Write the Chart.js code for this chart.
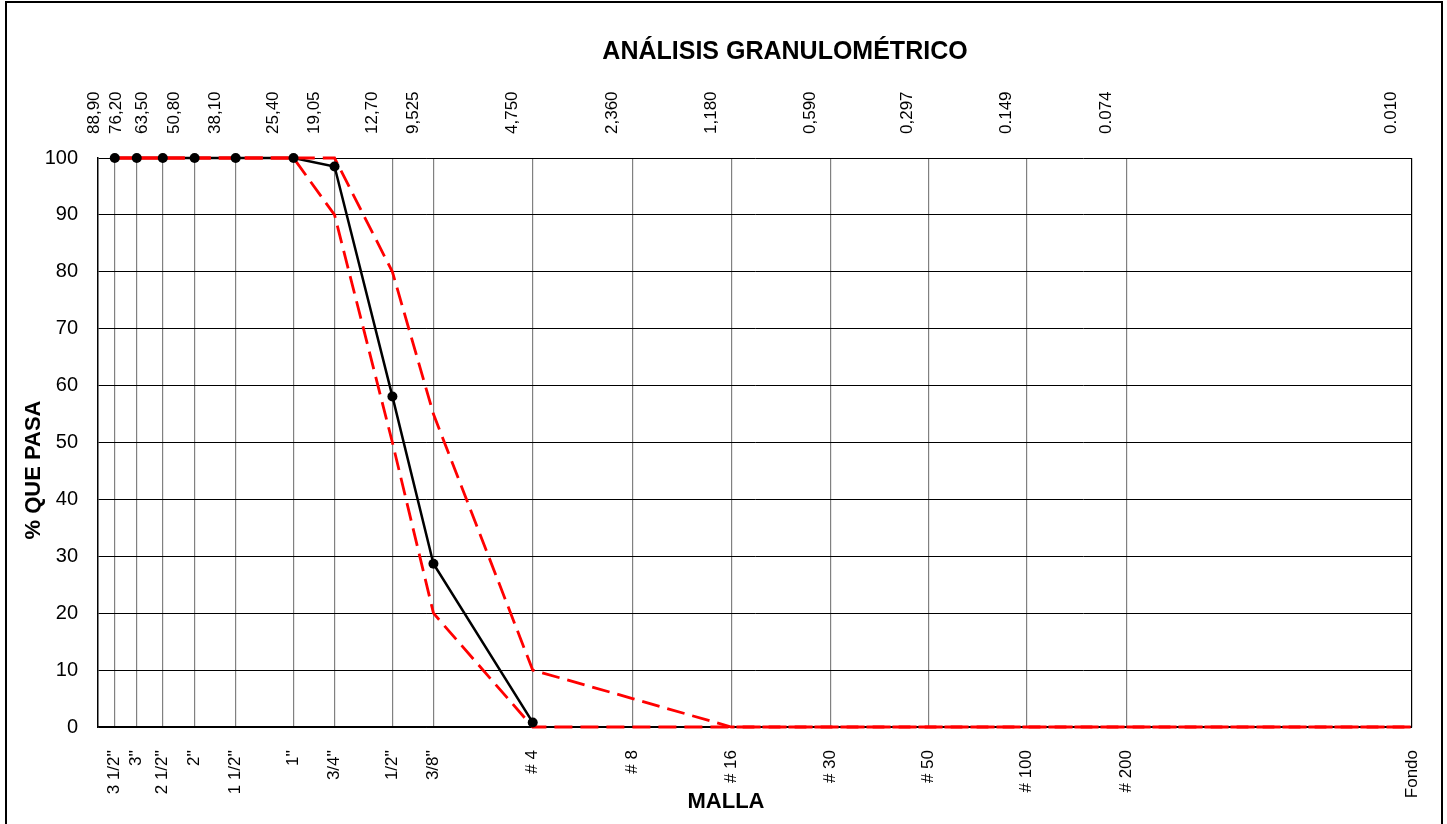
<!DOCTYPE html>
<html>
<head>
<meta charset="utf-8">
<title>Análisis granulométrico</title>
<script src="https://cdn.jsdelivr.net/npm/chart.js@4.4.1/dist/chart.umd.min.js"></script>
<style>
  html, body { margin: 0; padding: 0; background: #fff; }
  #wrap { position: relative; width: 1447px; height: 824px; }
</style>
</head>
<body>
<div id="wrap"><canvas id="myChart"></canvas></div>
<script>
const ctx = document.getElementById("myChart")

// abertura de tamices (mm)
const sieveSizes = [88.9, 76.2, 63.5, 50.8, 38.1, 25.4, 19.05, 12.7, 9.525, 4.75, 2.36, 1.18, 0.59, 0.297, 0.149, 0.074, 0.010];
const sizeLabels = ["88,90", "76,20", "63,50", "50,80", "38,10", "25,40", "19,05", "12,70", "9,525", "4,750", "2,360", "1,180", "0,590", "0,297", "0.149", "0.074", "0.010"];
const meshLabels = ["3 1/2''", "3''", "2 1/2''", "2''", "1 1/2''", "1''", "3/4''", "1/2''", "3/8''", "# 4", "# 8", "# 16", "# 30", "# 50", "# 100", "# 200", "Fondo"];

// % que pasa (muestra) - solo hasta # 4
const pasa = [100, 100, 100, 100, 100, 100, 98.5, 58.1, 28.7, 0.8];
// limites del huso
const limiteSup = [100, 100, 100, 100, 100, 100, 100, 80, 55, 10, 5, 0, 0, 0, 0, 0, 0];
const limiteInf = [100, 100, 100, 100, 100, 100, 90, 50, 20, 0, 0, 0, 0, 0, 0, 0, 0];

const yTicks = [0, 10, 20, 30, 40, 50, 60, 70, 80, 90, 100];

const FONT = "Arial, 'Liberation Sans', sans-serif";
const toPoints = (vals) => vals.map((v, i) => ({ x: sieveSizes[i], y: v }));

// marco, titulo y titulos de ejes
const frame = {
  id: "frame",
  beforeDraw(chart) {
    const c = chart.ctx;
    c.save();
    c.fillStyle = "#fff";
    c.fillRect(0, 0, chart.width, chart.height);
    c.strokeStyle = "#000";
    c.lineWidth = 2;
    c.strokeRect(6, 2, 1436, 900);
    c.restore();
  },
  afterDraw(chart) {
    const c = chart.ctx;
    c.save();
    c.fillStyle = "#000";
    c.textAlign = "center";
    c.textBaseline = "middle";
    c.font = "bold 25px " + FONT;
    c.fillText("ANÁLISIS GRANULOMÉTRICO", 785, 52);
    c.font = "bold 22px " + FONT;
    c.fillText("MALLA", 726, 802);
    c.translate(34, 470);
    c.rotate(-Math.PI / 2);
    c.fillText("% QUE PASA", 0, 0);
    c.restore();
  }
};

const xBase = {
  type: "logarithmic",
  reverse: true,
  min: 0.01,
  max: 100,
  afterBuildTicks: (scale) => { scale.ticks = sieveSizes.map(v => ({ value: v })); },
};

const redDash = {
  borderColor: "#ff0000",
  borderWidth: 2.8,
  borderDash: [18, 8],
  pointRadius: 0,
  tension: 0,
  clip: false
};

new Chart(ctx, {
  type: "line",
  data: {
    datasets: [{
      // marcadores encima de todo
      label: "Muestra (puntos)",
      data: toPoints(pasa),
      showLine: false,
      pointRadius: 5,
      pointBackgroundColor: "#000",
      pointBorderWidth: 0,
      clip: false,
      order: 0
    },
    {
      label: "Límite superior",
      data: toPoints(limiteSup),
      ...redDash,
      order: 1
    },
    {
      label: "Límite inferior",
      data: toPoints(limiteInf),
      ...redDash,
      order: 2
    },
    {
      label: "Muestra",
      data: toPoints(pasa),
      borderColor: "#000",
      borderWidth: 2.5,
      pointRadius: 0,
      tension: 0,
      clip: false,
      order: 3
    }]
  },
  options: {
    responsive: true,
    maintainAspectRatio: false,
    animation: false,
    layout: { padding: { left: 0, right: 35, top: 0, bottom: 0 } },
    plugins: {
      legend: { display: false },
      tooltip: { enabled: false },
      title: { display: false }
    },
    scales: {
      x: {
        ...xBase,
        position: "bottom",
        afterFit: (scale) => { scale.height = 97; scale.paddingLeft = 0; scale.paddingRight = 0; },
        ticks: {
          autoSkip: false,
          minRotation: 90,
          maxRotation: 90,
          padding: 23,
          color: "#000",
          font: { family: FONT, size: 17 },
          callback: (v, i) => meshLabels[i]
        },
        grid: {
          drawTicks: false,
          lineWidth: 1.2,
          color: (c) => (c.tick && c.tick.value === 0.01) ? "#000" : "#808080"
        },
        border: { display: true, color: "#000", width: 1.5 }
      },
      x2: {
        ...xBase,
        position: "top",
        afterFit: (scale) => { scale.height = 158; scale.paddingLeft = 0; scale.paddingRight = 0; },
        ticks: {
          autoSkip: false,
          minRotation: 90,
          maxRotation: 90,
          padding: 24,
          color: "#000",
          font: { family: FONT, size: 17 },
          callback: (v, i) => sizeLabels[i]
        },
        grid: { display: false, drawTicks: false },
        border: { display: false }
      },
      y: {
        min: 0,
        max: 100,
        afterFit: (scale) => { scale.width = 98; },
        afterBuildTicks: (scale) => { scale.ticks = yTicks.map(v => ({ value: v })); },
        ticks: {
          padding: 20,
          color: "#000",
          font: { family: FONT, size: 20 }
        },
        grid: { drawTicks: false, color: "#000", lineWidth: 1 },
        border: { display: true, color: "#000", width: 1.5 }
      }
    }
  },
  plugins: [frame]
});
</script>
</body>
</html>
